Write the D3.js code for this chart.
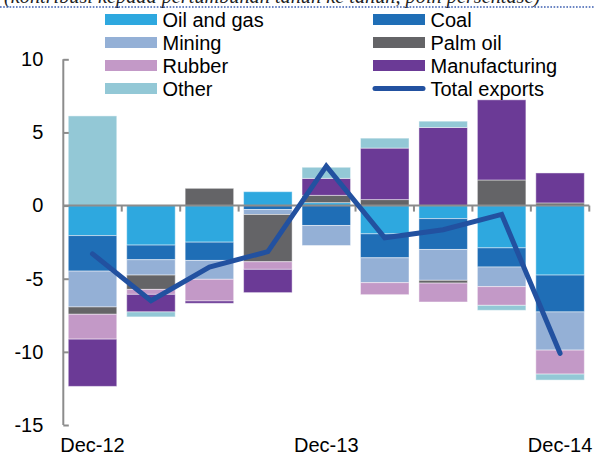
<!DOCTYPE html>
<html>
<head>
<meta charset="utf-8">
<script src="https://cdn.jsdelivr.net/npm/d3@7/dist/d3.min.js"></script>
<style>
  html, body { margin: 0; padding: 0; background: #fff; }
  svg { display: block; font-family: "Liberation Sans", Arial, sans-serif; }
</style>
</head>
<body>
<svg id="chart" width="594" height="459"></svg>
<script>
// Quarterly periods
const quarters = ["Dec-12", "Mar-13", "Jun-13", "Sep-13", "Dec-13", "Mar-14", "Jun-14", "Sep-14", "Dec-14"];
const shownTicks = ["Dec-12", "Dec-13", "Dec-14"];

// Contributions by commodity (percentage points)
const oilGas        = [-2.05, -2.70, -2.50,  0.95,  0.20, -1.93, -0.89, -2.89, -4.75];
const coal          = [-2.43, -1.00, -1.25, -0.27, -1.36, -1.64, -2.11, -1.31, -2.52];
const mining        = [-2.45, -1.05, -1.29, -0.34, -1.37, -1.70, -2.11, -1.34, -2.61];
const palmOil       = [-0.50, -0.98,  1.18, -3.23,  0.50,  0.41, -0.19,  1.75,  0.18];
const rubber        = [-1.70, -0.34, -1.48, -0.52,  0.00, -0.82, -1.29, -1.28, -1.64];
const manufacturing = [-3.23, -1.20, -0.16, -1.59,  1.16,  3.52,  5.34,  5.48,  2.05];
const other         = [ 6.13, -0.34,  0.00,  0.00,  0.76,  0.68,  0.43, -0.34, -0.41];

// Total exports growth (y/y, %)
const totalExports  = [-3.3, -6.5, -4.2, -3.15, 2.7, -2.2, -1.65, -0.6, -10.1];

const yTicks = [10, 5, 0, -5, -10, -15];

const seriesNames  = ["Oil and gas", "Coal", "Mining", "Palm oil", "Rubber", "Manufacturing", "Other"];
const seriesValues = [oilGas, coal, mining, palmOil, rubber, manufacturing, other];
const seriesColors = ["#2ea8df", "#1f6eb6", "#94b0d6", "#646467", "#c399c7", "#6b3a96", "#93c8d6"];
const lineColor = "#2251a0";

const rows = quarters.map((q, i) => {
  const r = { quarter: q };
  seriesNames.forEach((s, k) => { r[s] = seriesValues[k][i]; });
  return r;
});

const svg = d3.select("#chart");

const x = d3.scaleBand()
  .domain(quarters)
  .range([63.3, 589.3])
  .paddingInner(0.17)
  .paddingOuter(0.085);

const y = d3.scaleLinear()
  .domain([-15, 10])
  .range([425, 59.3]);

// Title line, partly cut by the top edge
svg.append("text")
  .attr("x", 4)
  .attr("y", 3)
  .attr("font-family", "'Liberation Serif', 'Times New Roman', serif")
  .attr("font-style", "italic")
  .attr("font-size", 20.3)
  .attr("fill", "#222")
  .text("(kontribusi kepada pertumbuhan tahun ke tahun, poin persentase)");

svg.append("line")
  .attr("x1", 0).attr("x2", 594)
  .attr("y1", 7).attr("y2", 7)
  .attr("stroke", "#3a5db0")
  .attr("stroke-width", 1.6)
  .attr("stroke-dasharray", "1.6,1.6");

// Stacked bars with positive and negative parts split around zero
const stack = d3.stack()
  .keys(seriesNames)
  .offset(d3.stackOffsetDiverging);
const stacked = stack(rows);

const layers = svg.append("g").selectAll("g")
  .data(stacked)
  .join("g")
  .attr("fill", (d, i) => seriesColors[i]);

layers.selectAll("rect")
  .data(d => d.filter(p => p[1] !== p[0]))
  .join("rect")
  .attr("x", d => x(d.data.quarter))
  .attr("width", x.bandwidth())
  .attr("y", d => y(Math.max(d[0], d[1])))
  .attr("height", d => Math.abs(y(d[0]) - y(d[1])))
  .attr("stroke", "#ffffff")
  .attr("stroke-opacity", 0.45)
  .attr("stroke-width", 1);

// Axes
const axisColor = "#8c8c8c";
const yAxis = svg.append("g").attr("transform", "translate(63.3,0)")
  .call(d3.axisLeft(y).tickValues(yTicks).tickSize(-5.5).tickFormat(d3.format("d")).tickPadding(20));
yAxis.select(".domain").attr("stroke", axisColor).attr("stroke-width", 2)
  .attr("d", `M0,${y(10)}V${y(-15)}`);
yAxis.selectAll(".tick line").attr("stroke", axisColor).attr("stroke-width", 2);
yAxis.selectAll(".tick text")
  .attr("font-size", 20)
  .attr("fill", "#000")
  .attr("font-family", "'Liberation Sans', Arial, sans-serif")
  .text(d => d < 0 ? "-" + Math.abs(d) : d);

// Zero line with tick marks at the period boundaries
const zeroG = svg.append("g");
zeroG.append("line")
  .attr("x1", 63.3).attr("x2", 589.3)
  .attr("y1", y(0)).attr("y2", y(0))
  .attr("stroke", axisColor).attr("stroke-width", 2);
const step = x.step();
zeroG.selectAll("line.b")
  .data(quarters)
  .join("line")
  .attr("class", "b")
  .attr("x1", d => x(d) - x.paddingOuter() * step + step)
  .attr("x2", d => x(d) - x.paddingOuter() * step + step)
  .attr("y1", y(0)).attr("y2", y(0) + 6)
  .attr("stroke", axisColor).attr("stroke-width", 2);

// Period labels
svg.append("g").selectAll("text")
  .data(shownTicks)
  .join("text")
  .attr("x", d => x(d) + x.bandwidth() / 2)
  .attr("y", 452)
  .attr("text-anchor", "middle")
  .attr("font-size", 20)
  .attr("fill", "#000")
  .text(d => d);

// Total exports line
const line = d3.line()
  .x((d, i) => x(quarters[i]) + x.bandwidth() / 2)
  .y(d => y(d));

svg.append("path")
  .datum(totalExports)
  .attr("d", line)
  .attr("fill", "none")
  .attr("stroke", lineColor)
  .attr("stroke-width", 5)
  .attr("stroke-linejoin", "miter")
  .attr("stroke-linecap", "round");

// Legend
const legendItems = [
  { name: "Oil and gas", color: seriesColors[0], col: 0, row: 0 },
  { name: "Coal", color: seriesColors[1], col: 1, row: 0 },
  { name: "Mining", color: seriesColors[2], col: 0, row: 1 },
  { name: "Palm oil", color: seriesColors[3], col: 1, row: 1 },
  { name: "Rubber", color: seriesColors[4], col: 0, row: 2 },
  { name: "Manufacturing", color: seriesColors[5], col: 1, row: 2 },
  { name: "Other", color: seriesColors[6], col: 0, row: 3 },
  { name: "Total exports", color: lineColor, col: 1, row: 3, line: true }
];
const colX = [105, 373];
const legend = svg.append("g").selectAll("g")
  .data(legendItems)
  .join("g")
  .attr("transform", d => `translate(${colX[d.col]},${19.5 + d.row * 23})`);

legend.filter(d => !d.line).append("rect")
  .attr("x", 0).attr("y", -5.5)
  .attr("width", 52).attr("height", 11)
  .attr("fill", d => d.color);
legend.filter(d => d.line).append("line")
  .attr("x1", 2).attr("x2", 50)
  .attr("y1", 0).attr("y2", 0)
  .attr("stroke", d => d.color)
  .attr("stroke-width", 5)
  .attr("stroke-linecap", "round");
legend.append("text")
  .attr("x", 57.5)
  .attr("y", 7)
  .attr("font-size", 20)
  .attr("fill", "#000")
  .text(d => d.name);
</script>
</body>
</html>
